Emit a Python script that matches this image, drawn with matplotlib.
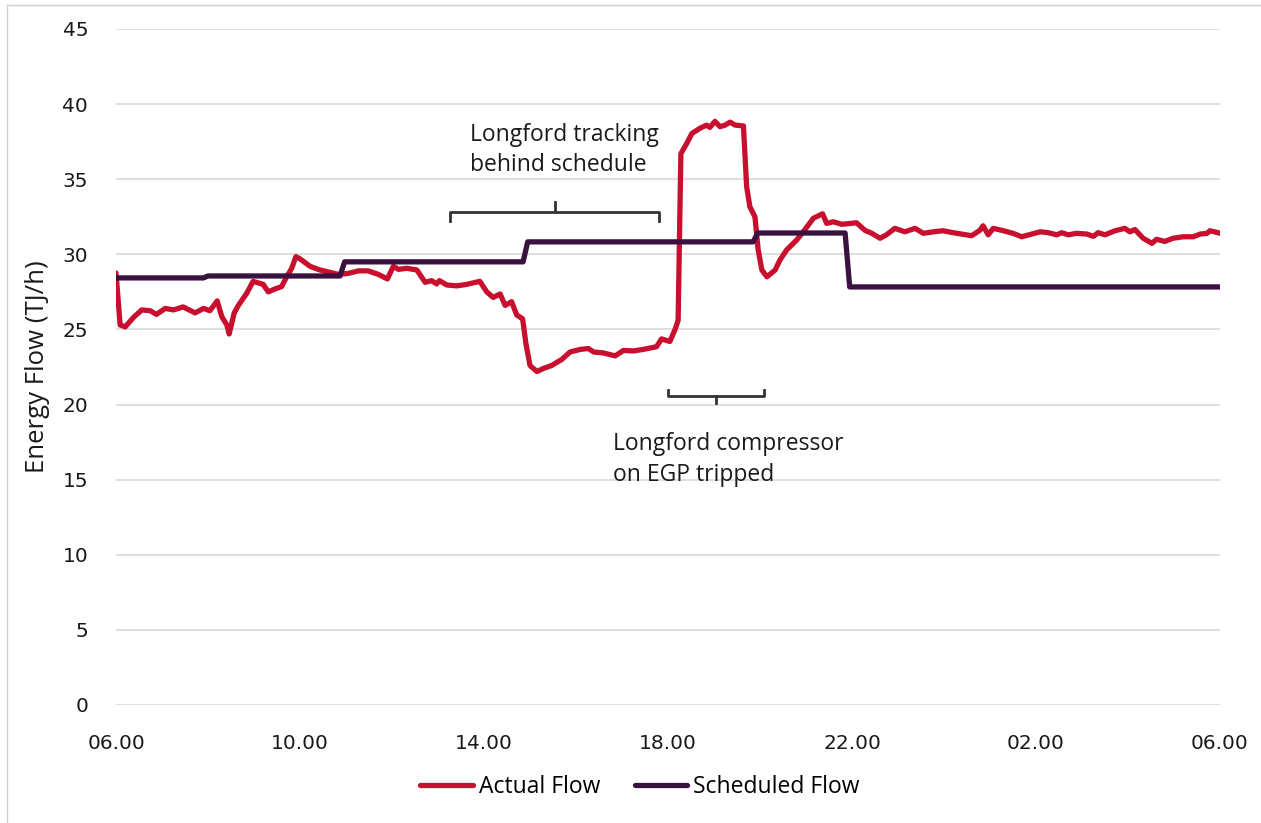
import matplotlib.pyplot as plt
from matplotlib.lines import Line2D
import numpy as np

# ── Colours ───────────────────────────────────────────────────────────────────
C_ACTUAL = "#c8102e"   # red    — actual flow
C_SCHED  = "#3a1240"   # aubergine — scheduled flow
C_GRID   = "#d9d9d9"
C_TEXT   = "#1a1a1a"

FONT = ["Open Sans", "DejaVu Sans"]

# ── Data: hours after 06.00, energy flow in TJ/h ─────────────────────────────
actual_h = [
    0.00, 0.09, 0.20, 0.38, 0.56, 0.74, 0.88, 1.07, 1.25, 1.46, 1.72, 1.90,
    2.04, 2.20, 2.30, 2.41, 2.46, 2.57, 2.66, 2.84, 2.98, 3.20, 3.31, 3.46,
    3.60, 3.71, 3.82, 3.91, 4.00, 4.22, 4.43, 4.65, 4.83, 5.05, 5.27, 5.48,
    5.70, 5.90, 6.03, 6.14, 6.32, 6.54, 6.72, 6.86, 6.97, 7.03, 7.19, 7.41,
    7.62, 7.77, 7.91, 8.06, 8.20, 8.35, 8.46, 8.60, 8.71, 8.84, 8.91, 9.00,
    9.15, 9.29, 9.47, 9.69, 9.87, 10.09, 10.27, 10.38, 10.59, 10.85, 11.03,
    11.25, 11.46, 11.75, 11.86, 12.04, 12.15, 12.22, 12.28, 12.41, 12.52,
    12.70, 12.84, 12.91, 13.02, 13.13, 13.24, 13.35, 13.46, 13.64, 13.71,
    13.78, 13.89, 13.96, 14.04, 14.15, 14.33, 14.43, 14.58, 14.80, 14.94,
    15.16, 15.36, 15.45, 15.59, 15.78, 15.96, 16.10, 16.28, 16.43, 16.61,
    16.75, 16.93, 17.15, 17.37, 17.55, 17.77, 17.98, 18.20, 18.38, 18.60,
    18.78, 18.85, 18.96, 19.07, 19.29, 19.50, 19.69, 19.91, 20.09, 20.27,
    20.45, 20.56, 20.70, 20.88, 21.10, 21.25, 21.35, 21.50, 21.72, 21.93,
    22.04, 22.15, 22.33, 22.52, 22.62, 22.80, 22.98, 23.20, 23.42, 23.57,
    23.72, 23.78, 23.96, 24.00,
]
actual_v = [
    28.76, 25.30, 25.17, 25.80, 26.30, 26.25, 26.00, 26.40, 26.30, 26.50, 26.10, 26.40,
    26.25, 26.90, 25.85, 25.30, 24.70, 26.10, 26.60, 27.40, 28.20, 28.00, 27.50, 27.70,
    27.85, 28.50, 29.07, 29.85, 29.70, 29.20, 28.96, 28.80, 28.67, 28.73, 28.90, 28.90,
    28.67, 28.36, 29.20, 29.00, 29.07, 28.96, 28.14, 28.25, 28.03, 28.25, 27.96, 27.90,
    28.00, 28.10, 28.20, 27.50, 27.13, 27.36, 26.60, 26.85, 25.97, 25.70, 24.08, 22.60,
    22.20, 22.40, 22.60, 23.00, 23.50, 23.67, 23.73, 23.50, 23.44, 23.24, 23.60,
    23.57, 23.67, 23.85, 24.37, 24.20, 24.97, 25.60, 36.70, 37.40, 38.05,
    38.40, 38.60, 38.45, 38.85, 38.50, 38.60, 38.80, 38.60, 38.55, 34.50,
    33.16, 32.50, 30.30, 28.96, 28.50, 28.96, 29.60, 30.30, 30.96, 31.50,
    32.40, 32.70, 32.06, 32.17, 32.00, 32.06, 32.10, 31.60, 31.40, 31.07,
    31.30, 31.73, 31.50, 31.73, 31.40, 31.50, 31.57, 31.44, 31.35, 31.24,
    31.60, 31.90, 31.30, 31.73, 31.57, 31.40, 31.17, 31.35, 31.50, 31.44,
    31.30, 31.44, 31.30, 31.40, 31.35, 31.20, 31.44, 31.30, 31.57, 31.73,
    31.50, 31.65, 31.07, 30.73, 31.00, 30.86, 31.07, 31.17, 31.17, 31.35,
    31.40, 31.57, 31.44, 31.40,
]

# Scheduled flow: hour each new schedule value takes effect, and its value
sched_start = [0.0, 2.0, 4.97, 8.95, 13.95, 15.95]
sched_value = [28.43, 28.56, 29.50, 30.83, 31.42, 27.83]
SAMPLE = 0.1   # ~5-minute sampling makes the steps slightly slanted

tick_h      = [0, 4, 8, 12, 16, 20, 24]
tick_labels = ["06.00", "10.00", "14.00", "18.00", "22.00", "02.00", "06.00"]

# build the sampled schedule line from the step table
sx, sy = [], []
for i, (t, v) in enumerate(zip(sched_start, sched_value)):
    if i > 0:
        sx.append(t - SAMPLE)
        sy.append(sched_value[i - 1])
    sx.append(t)
    sy.append(v)
sx.append(24.0)
sy.append(sched_value[-1])

# ── Figure ────────────────────────────────────────────────────────────────────
fig = plt.figure(figsize=(12.61, 8.23), dpi=100)
fig.patch.set_facecolor("white")
ax = fig.add_axes([116 / 1261, 1 - 705 / 823, (1220 - 116) / 1261, (705 - 29) / 823])

ax.plot(actual_h, actual_v, color=C_ACTUAL, lw=3.8, solid_joinstyle="round",
        solid_capstyle="round", zorder=3, label="Actual Flow")
ax.plot(sx, sy, color=C_SCHED, lw=3.8, solid_joinstyle="round",
        solid_capstyle="round", zorder=4, label="Scheduled Flow")

ax.set_xlim(0, 24)
ax.set_ylim(0, 45)
ax.set_yticks(np.arange(0, 46, 5))
ax.set_xticks(tick_h)
ax.set_xticklabels(tick_labels)
ax.tick_params(length=0, labelsize=14.5, colors=C_TEXT)
ax.tick_params(axis="x", pad=21)
ax.tick_params(axis="y", pad=20)
ax.yaxis.grid(True, color=C_GRID, lw=1.2, zorder=0)
ax.set_axisbelow(True)
for s in ax.spines.values():
    s.set_visible(False)
ax.set_ylabel("Energy Flow (TJ/h)", fontsize=18.5, family=FONT, color=C_TEXT)
ax.yaxis.set_label_coords(-0.06, 0.5)

# ── Annotations with brackets ────────────────────────────────────────────────
ax.text(7.70, 36.95, "Longford tracking\nbehind schedule", fontsize=16.5, family=FONT,
        color=C_TEXT, ha="left", va="center", linespacing=1.38)
ax.plot([7.25, 7.25, 11.8, 11.8], [32.2, 32.8, 32.8, 32.2], color="#333333", lw=2, zorder=2)
ax.plot([9.55, 9.55], [32.8, 33.5], color="#333333", lw=2, zorder=2)

ax.text(10.8, 16.35, "Longford compressor\non EGP tripped", fontsize=16.5, family=FONT,
        color=C_TEXT, ha="left", va="center", linespacing=1.38)
ax.plot([12.0, 12.0, 14.08, 14.08], [20.95, 20.6, 20.6, 20.95], color="#333333", lw=2, zorder=2)
ax.plot([13.04, 13.04], [20.6, 20.1], color="#333333", lw=2, zorder=2)

# ── Legend below ─────────────────────────────────────────────────────────────
handles = [Line2D([], [], color=C_ACTUAL, lw=3.8, solid_capstyle="round"),
           Line2D([], [], color=C_SCHED, lw=3.8, solid_capstyle="round")]
fig.legend(handles, ["Actual Flow", "Scheduled Flow"], loc="center",
           bbox_to_anchor=(640 / 1261, 1 - 787 / 823), ncol=2, frameon=False,
           prop={"family": FONT, "size": 16.5}, handlelength=2.3, handletextpad=0.25,
           columnspacing=1.5)

# thin frame edge visible on the left and top of the original
fig.add_artist(Line2D([7 / 1261, 7 / 1261], [0, 1 - 5 / 823], color="#d0d0d0", lw=1))
fig.add_artist(Line2D([7 / 1261, 1], [1 - 5 / 823, 1 - 5 / 823], color="#d0d0d0", lw=1))

fig.savefig("out.png", dpi=100, facecolor="white")
